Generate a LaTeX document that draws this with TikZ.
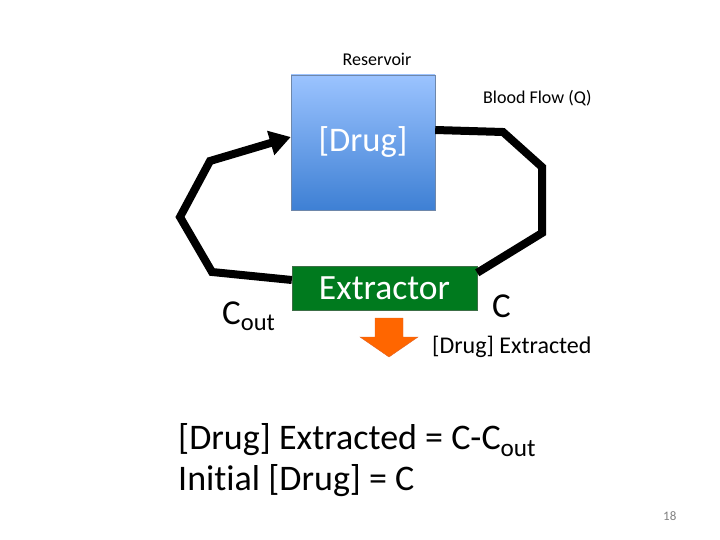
\documentclass[tikz,border=0pt]{standalone}
\usepackage{fontspec}
\setmainfont[Ligatures=NoCommon]{Carlito}
\usetikzlibrary{arrows.meta,positioning}
\definecolor{resblue}{RGB}{62,128,212}
\definecolor{restop}{RGB}{155,195,255}
\definecolor{resedge}{RGB}{110,135,170}
\definecolor{extgreen}{RGB}{0,122,30}
\definecolor{extedge}{RGB}{60,110,70}
\definecolor{drainorange}{RGB}{255,102,0}
\definecolor{drainedge}{RGB}{225,100,40}
\newcommand{\fs}[1]{\fontsize{#1}{1.2\dimexpr#1pt\relax}\selectfont}

\begin{document}
\begin{tikzpicture}[x=1pt,y=-1pt,
  organ/.style={draw,minimum width=144pt,minimum height=135pt,inner sep=0pt,text=white,font=\fs{34.5}},
  filter/.style={draw=extedge,fill=extgreen,minimum width=185pt,minimum height=44pt,inner sep=0pt,text=white,font=\fs{35.5}},
  flow/.style={line width=8pt,black},
  lbl/.style={anchor=base west,inner sep=0pt}]
  \useasboundingbox (0,0) rectangle (720,540);
  % Reservoir and extractor
  \node[organ,draw=resedge,top color=restop,bottom color=resblue] (res) at (363,142.5) {[Drug]};
  \node[lbl,anchor=base,font=\fs{18}] (resname) at (377,66) {Reservoir};
  \node[filter] (ext) at (384.5,288) {Extractor};
  % Blood flow loop
  \draw[flow] ([yshift=12.5pt]res.east) -- (503,132) -- (542,167) -- (542,233) -- ([yshift=-7pt]ext.north east);
  \draw[flow,-{Triangle[length=21pt,width=24pt]}] ([yshift=8pt]ext.west) -- (212,272) -- (180,217) -- (210,161) -- ([yshift=5.5pt]res.west);
  % Drain arrow
  \draw[draw=drainedge,fill=drainorange] (375,318) coordinate (drain) -- (403,318) -- (403,337) -- (418,337) -- (389,357) -- (360,337) -- (375,337) -- cycle;
  % Labels
  \node[lbl,font=\fs{18}] (qlbl) at (483,104) {Blood Flow (Q)};
  \node[lbl,font=\fs{35}] (cout) at (222,324) {C\textsubscript{out}};
  \node[lbl,font=\fs{35}] (cin) at (492,317) {C};
  \node[lbl,font=\fs{24}] (extracted) at (432,353) {[Drug] Extracted};
  \node[lbl,font=\fs{36}] (eq1) at (178,449) {[Drug] Extracted = C-C\textsubscript{out}};
  \node[lbl,font=\fs{36}] (eq2) at (178,490) {Initial [Drug] = C};
  \node[lbl,font=\fs{13},text=gray] (page) at (663,520) {18};
\end{tikzpicture}
\end{document}
